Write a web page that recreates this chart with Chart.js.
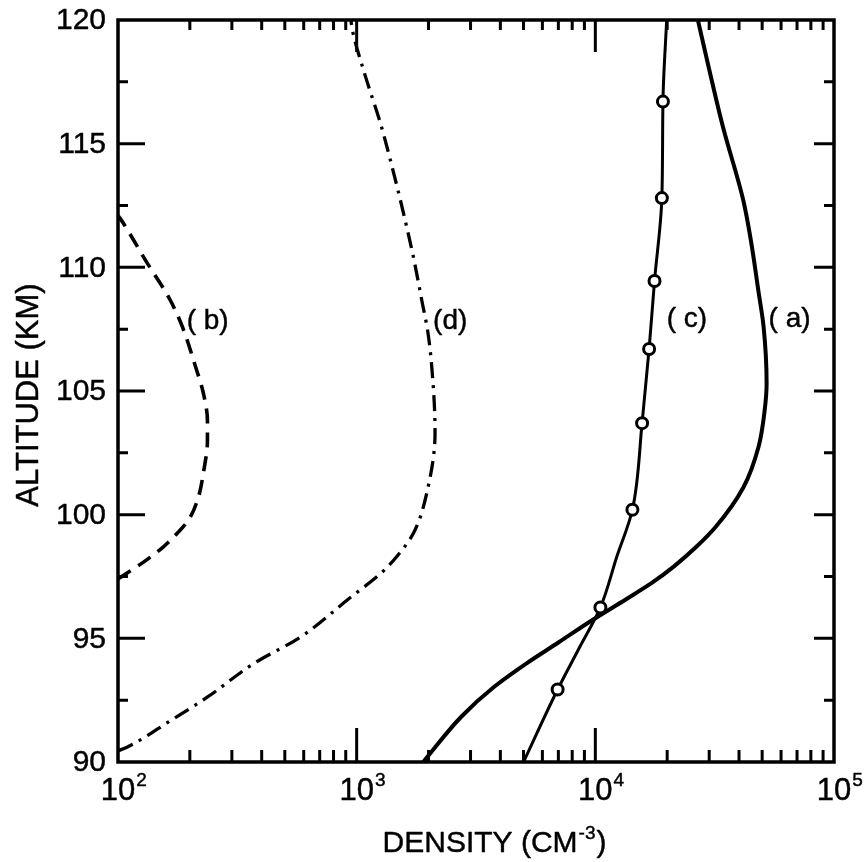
<!DOCTYPE html>
<html>
<head>
<meta charset="utf-8">
<script src="https://cdn.jsdelivr.net/npm/chart.js@4/dist/chart.umd.min.js"></script>
<style>
  html, body { margin: 0; padding: 0; background: #fff; }
  canvas { display: block; }
</style>
</head>
<body>
<canvas id="myChart" width="868" height="862"></canvas>
<script>
// Profiles: altitude (km) against density (cm^-3)
const altA = [90, 91.84, 93.05, 94, 94.83, 95.76, 96.57, 97.25, 97.9, 98.7, 99.5, 101.1, 102.75, 104.2, 105.3, 107.6, 109, 111, 112.7, 115.7, 118, 120]
const denA = [1900, 2750, 3780, 5170, 7000, 9800, 13400, 17300, 21300, 26500, 31900, 41700, 48300, 51200, 52200, 50700, 48300, 45000, 41700, 34200, 30000, 26900]

const altB = [97.4, 98.06, 98.7, 99.3, 99.8, 100.7, 101.7, 103, 103.8, 104.9, 106, 107.6, 108.7, 110.2, 111.8, 112.1]
const denB = [100, 127, 155, 179, 198, 217, 228, 237, 237, 228, 211, 186, 165, 132, 105, 100]

const altC = [90, 92.93, 94.6, 96.25, 98.3, 100.2, 103.7, 106.7, 109.45, 112.8, 116.7, 120]
const denC = [5000, 6950, 8550, 10500, 12300, 14300, 15700, 16800, 17700, 19000, 19200, 19900]
// measured points on (c), drawn as open circles
const markC = [false, true, false, true, false, true, true, true, true, true, true, false]

const altD = [90.45, 90.6, 91.64, 92.65, 94, 95.03, 96.6, 97.65, 98.4, 99.3, 101.1, 103.3, 105, 107.35, 108.6, 110.4, 112.2, 113.8, 115.8, 117.7, 119.5, 120]
const denD = [100, 109, 164, 239, 373, 577, 927, 1270, 1500, 1740, 1990, 2130, 2100, 1990, 1880, 1730, 1570, 1430, 1260, 1090, 964, 945]

const decadeExps = [2, 3, 4, 5]
const altTicks = [90, 95, 100, 105, 110, 115, 120]

// curve names placed beside each profile (density, altitude)
const curveNames = [
  { text: '( a)', den: 53200, alt: 107.9 },
  { text: '( b)', den: 194, alt: 107.8 },
  { text: '( c)', den: 19900, alt: 107.9 },
  { text: '(d)', den: 2090, alt: 107.8 }
]

const FONT = '"Liberation Sans", Arial, sans-serif'

function toPoints(alts, dens) {
  return alts.map((a, i) => ({ x: dens[i], y: a }))
}

// filled text with a thin outline so the lettering reads like pen lettering
function ink(ctx, text, x, y) {
  ctx.fillText(text, x, y)
  ctx.strokeText(text, x, y)
}

// text with a raised exponent, base centred on x (or whole thing centred)
function drawPower(ctx, base, sup, x, y, size, supSize, centerBase) {
  ctx.font = size + 'px ' + FONT
  const bw = ctx.measureText(base).width
  ctx.font = supSize + 'px ' + FONT
  const sw = ctx.measureText(sup).width
  const left = centerBase ? x - bw / 2 : x - (bw + sw) / 2
  ctx.textAlign = 'left'
  ctx.textBaseline = 'alphabetic'
  ctx.font = size + 'px ' + FONT
  ink(ctx, base, left, y)
  ctx.font = supSize + 'px ' + FONT
  ink(ctx, sup, left + bw + 1, y - size * 0.45)
  return left + bw + 1 + sw
}

const frameAndTicks = {
  id: 'frameAndTicks',
  afterDatasetsDraw(chart) {
    const ctx = chart.ctx
    const xs = chart.scales.x
    const ys = chart.scales.y
    const { left, right, top, bottom } = chart.chartArea

    ctx.save()
    ctx.strokeStyle = '#000'
    ctx.fillStyle = '#000'
    ctx.lineCap = 'butt'

    // frame
    ctx.lineWidth = 3.5
    ctx.strokeRect(left, top, right - left, bottom - top)

    // inward ticks on the density axis, bottom and top
    ctx.lineWidth = 3
    for (let k = 2; k <= 4; k++) {
      for (let m = 1; m <= 9; m++) {
        const v = m * Math.pow(10, k)
        if (v <= 100) continue
        const px = xs.getPixelForValue(v)
        const major = m === 1
        ctx.beginPath()
        ctx.moveTo(px, bottom)
        ctx.lineTo(px, bottom - (major ? 34 : 12))
        ctx.moveTo(px, top)
        ctx.lineTo(px, top + (major ? 32 : 10))
        ctx.stroke()
      }
    }

    // inward ticks on the altitude axis, left and right
    for (let v = 92.5; v < 120; v += 2.5) {
      const py = ys.getPixelForValue(v)
      const major = v % 5 === 0
      ctx.beginPath()
      ctx.moveTo(left, py)
      ctx.lineTo(left + (major ? 27 : 10), py)
      ctx.moveTo(right, py)
      ctx.lineTo(right - (major ? 20 : 10), py)
      ctx.stroke()
    }

    ctx.lineWidth = 0.45
    ctx.lineJoin = 'round'

    // altitude labels
    ctx.font = '30px ' + FONT
    ctx.textAlign = 'right'
    ctx.textBaseline = 'middle'
    altTicks.forEach(v => {
      ink(ctx, String(v), left - 12, ys.getPixelForValue(v) + 1)
    })

    // decade labels
    decadeExps.forEach(e => {
      const px = xs.getPixelForValue(Math.pow(10, e))
      drawPower(ctx, '10', String(e), px, bottom + 38, 31, 19, true)
    })

    // axis titles
    const midX = (left + right) / 2 + 18
    ctx.font = '30px ' + FONT
    const t1 = 'DENSITY (CM'
    const w1 = ctx.measureText(t1).width
    ctx.font = '19px ' + FONT
    const w2 = ctx.measureText('-3').width
    const x0 = midX - (w1 + w2 + 12) / 2
    const x1 = drawPower(ctx, t1, '-3', x0 + (w1 + w2 + 1) / 2, bottom + 90, 30, 19, false)
    ctx.font = '30px ' + FONT
    ink(ctx, ')', x1 + 1, bottom + 90)

    ctx.save()
    ctx.translate(38, (top + bottom) / 2 + 4)
    ctx.rotate(-Math.PI / 2)
    ctx.font = '31px ' + FONT
    ctx.textAlign = 'center'
    ctx.textBaseline = 'alphabetic'
    ink(ctx, 'ALTITUDE (KM)', 0, 0)
    ctx.restore()

    // curve names
    ctx.font = '28px ' + FONT
    ctx.textAlign = 'left'
    ctx.textBaseline = 'middle'
    curveNames.forEach(n => {
      ink(ctx, n.text, xs.getPixelForValue(n.den), ys.getPixelForValue(n.alt))
    })

    ctx.restore()
  }
}

const ctx = document.getElementById('myChart').getContext('2d')
const myChart = new Chart(ctx, {
  type: 'line',
  data: {
    datasets: [
      {
        label: '(a)',
        data: toPoints(altA, denA),
        borderColor: '#000',
        borderWidth: 4,
        pointRadius: 0
      },
      {
        label: '(b)',
        data: toPoints(altB, denB),
        borderColor: '#000',
        borderWidth: 3.6,
        borderDash: [15, 9],
        pointRadius: 0
      },
      {
        label: '(c)',
        data: toPoints(altC, denC),
        borderColor: '#000',
        borderWidth: 3,
        pointRadius: markC.map(m => m ? 5.5 : 0),
        pointBorderWidth: 3,
        pointBorderColor: '#000',
        pointBackgroundColor: '#fff'
      },
      {
        label: '(d)',
        data: toPoints(altD, denD),
        borderColor: '#000',
        borderWidth: 3.3,
        borderDash: [16, 7, 3, 7],
        pointRadius: 0
      }
    ]
  },
  options: {
    responsive: false,
    animation: false,
    devicePixelRatio: 1,
    // altitude is the independent variable, so curves are smoothed along y
    indexAxis: 'y',
    elements: {
      line: { cubicInterpolationMode: 'monotone' }
    },
    layout: {
      padding: { left: 0, top: 20, right: 34, bottom: 0 }
    },
    plugins: {
      legend: { display: false },
      tooltip: { enabled: false }
    },
    scales: {
      x: {
        type: 'logarithmic',
        min: 100,
        max: 100000,
        grid: { display: false },
        border: { display: false },
        ticks: { display: false },
        afterFit(scale) { scale.height = 100 }
      },
      y: {
        type: 'linear',
        min: 90,
        max: 120,
        grid: { display: false },
        border: { display: false },
        ticks: { display: false },
        afterFit(scale) { scale.width = 118 }
      }
    }
  },
  plugins: [frameAndTicks]
})
</script>
</body>
</html>
